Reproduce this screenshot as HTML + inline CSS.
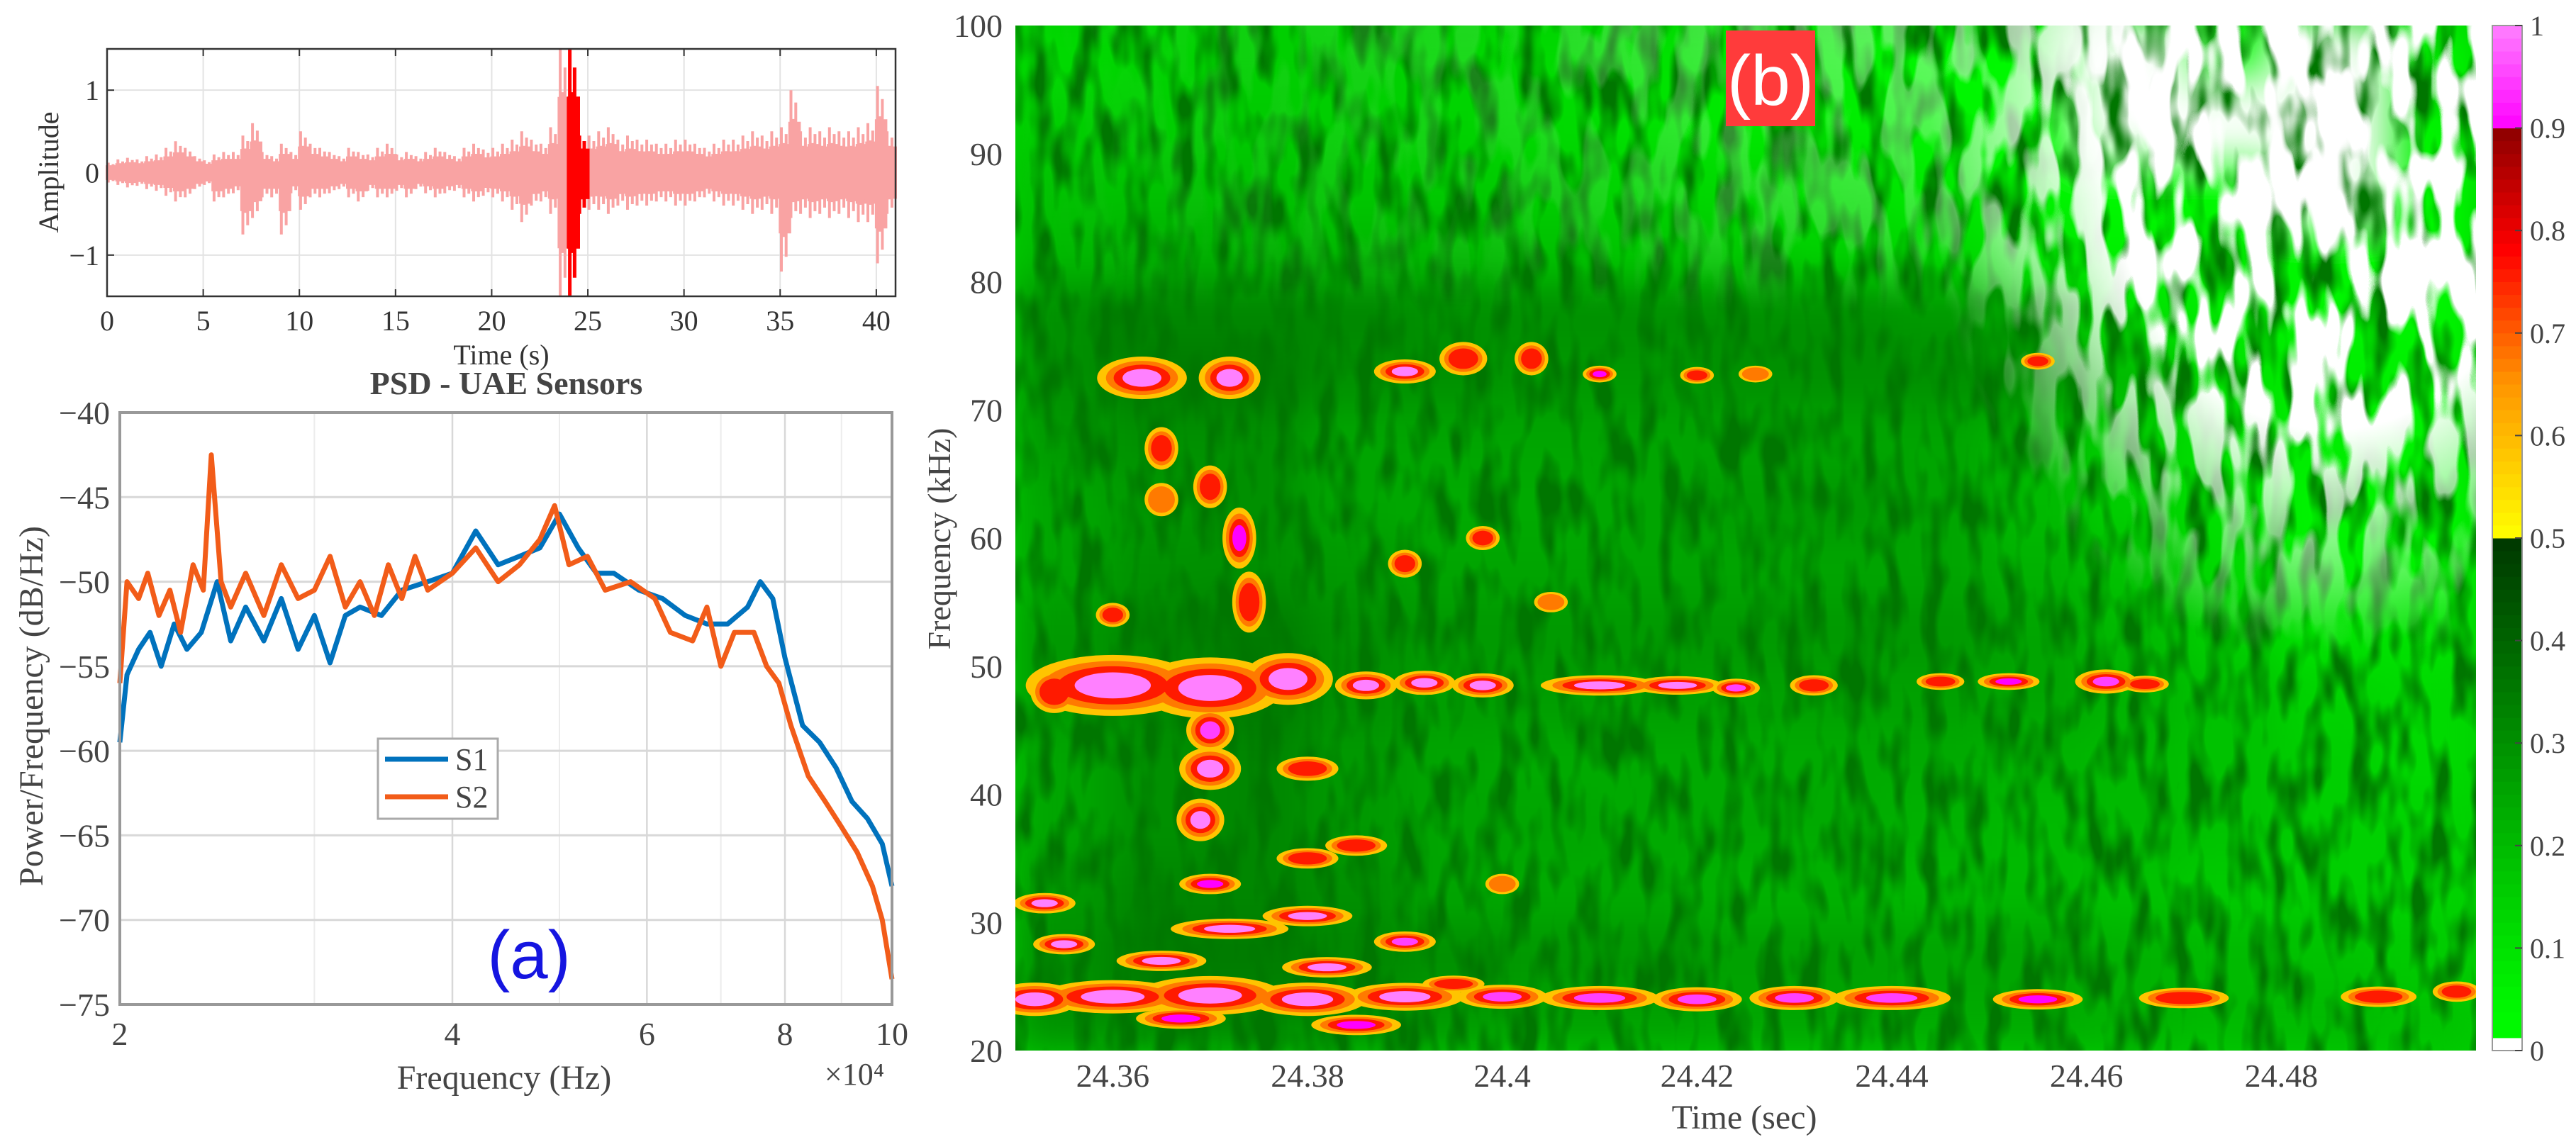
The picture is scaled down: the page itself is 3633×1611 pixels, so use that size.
<!DOCTYPE html>
<html><head><meta charset="utf-8">
<style>
html,body{margin:0;padding:0;background:#fff;}
svg{display:block;}
text{font-family:"Liberation Serif",serif;}
</style></head>
<body>
<svg id="fig" xmlns="http://www.w3.org/2000/svg" width="3633" height="1611" viewBox="0 0 3633 1611">
<defs>
<filter id="blurCells" x="-5%" y="-5%" width="110%" height="110%"><feGaussianBlur stdDeviation="28"/></filter>
<filter id="speckle" x="0" y="0" width="100%" height="100%">
<feTurbulence type="fractalNoise" baseFrequency="0.035 0.012" numOctaves="2" seed="3"/>
<feColorMatrix type="matrix" values="0 0 0 0 0  0 0 0 0 0.18  0 0 0 0 0  3.2 0 0 0 -1.35"/>
</filter>
<filter id="whiteSpeckle" x="0" y="0" width="100%" height="100%">
<feTurbulence type="fractalNoise" baseFrequency="0.03 0.009" numOctaves="2" seed="7"/>
<feColorMatrix type="matrix" values="0 0 0 0 1  0 0 0 0 1  0 0 0 0 1  9 0 0 0 -4.0"/>
</filter>
<radialGradient id="whiteGrad" cx="0.9" cy="0.12" r="0.5" gradientTransform="translate(0.9,0.12) scale(0.55,1) translate(-0.9,-0.12)">
<stop offset="0" stop-color="#fff"/><stop offset="0.55" stop-color="#fff"/><stop offset="1" stop-color="#000"/>
</radialGradient>
<linearGradient id="topGrad" x1="0" y1="0" x2="1" y2="0">
<stop offset="0" stop-color="#000"/><stop offset="0.35" stop-color="#222"/><stop offset="0.7" stop-color="#777"/><stop offset="1" stop-color="#777"/>
</linearGradient>
<linearGradient id="topFade" x1="0" y1="0" x2="0" y2="1">
<stop offset="0" stop-color="#fff"/><stop offset="0.2" stop-color="#888"/><stop offset="0.28" stop-color="#000"/>
</linearGradient>
<mask id="whiteMask"><rect x="1432" y="36" width="2060" height="1446" fill="url(#whiteGrad)"/></mask>
<mask id="topMask"><rect x="1432" y="36" width="2060" height="1446" fill="url(#topFade)"/></mask>
<mask id="topMaskX"><rect x="1432" y="36" width="2060" height="1446" fill="url(#topGrad)"/></mask>
<clipPath id="specClip"><rect x="1432" y="36" width="2060" height="1446"/></clipPath>
</defs>
</svg>
<script>
// ---------- data ----------
const waveBin = 0.5;
const envPos = [.12,.16,.18,.16,.2,.22,.3,.38, .3,.2,.15,.22,.25,.25,.45,.6, .25,.2,.35,.25,.5,.35,.3,.25, .2,.3,.25,.22,.3,.35,.22,.25, .2,.25,.3,.25,.2,.3,.35,.28, .3,.35,.4,.5,.4,.35,.55,1.5, 1.5,.45,.45,.5,.55,.4,.45,.4, .4,.35,.35,.4,.4,.35,.3,.35, .4,.4,.45,.5,.45,.5,.55,1.0, .5,.55,.5,.55,.5,.5,.55,.6, 1.05,.5];
const envNeg = [.12,.15,.18,.16,.2,.22,.28,.35, .3,.2,.15,.35,.3,.25,.75,.55, .3,.3,.75,.25,.45,.3,.3,.25, .2,.3,.35,.22,.3,.3,.22,.3, .2,.25,.3,.25,.22,.3,.35,.28, .3,.35,.45,.6,.4,.35,.5,1.5, 1.5,.5,.45,.45,.5,.4,.45,.4, .4,.35,.35,.4,.4,.35,.3,.35, .4,.4,.45,.5,.45,.5,1.2,.55, .5,.55,.5,.55,.5,.55,.6,.6, 1.1,.5];
const waveXTicks = [0,5,10,15,20,25,30,35,40];
const waveYTicks = [-1,0,1];

const psdF1 = [2.0,2.03,2.08,2.13,2.18,2.24,2.3,2.37,2.45,2.52,2.6,2.7,2.8,2.9,3.0,3.1,3.2,3.3,3.45,3.6,3.8,4.0,4.2,4.4,4.6,4.8,5.0,5.2,5.4,5.6,5.9,6.2,6.5,6.8,7.1,7.4,7.6,7.8,8.0,8.3,8.6,8.9,9.2,9.5,9.8,10];
const psdS1 = [-59.5,-55.5,-54,-53,-55,-52.5,-54,-53,-50,-53.5,-51.5,-53.5,-51,-54,-52,-54.8,-52,-51.5,-52,-50.5,-50,-49.5,-47,-49,-48.5,-48,-46,-48,-49.5,-49.5,-50.5,-51,-52,-52.5,-52.5,-51.5,-50,-51,-54.5,-58.5,-59.5,-61,-63,-64,-65.5,-68];
const psdF2 = [2.0,2.03,2.08,2.12,2.17,2.22,2.27,2.33,2.38,2.42,2.47,2.52,2.6,2.7,2.8,2.9,3.0,3.1,3.2,3.3,3.4,3.5,3.6,3.7,3.8,4.0,4.2,4.4,4.6,4.8,4.95,5.1,5.3,5.5,5.8,6.1,6.3,6.6,6.8,7.0,7.2,7.5,7.7,7.9,8.1,8.4,8.7,9.0,9.3,9.6,9.8,10];
const psdS2 = [-56,-50,-51,-49.5,-52,-50.5,-53,-49,-50.5,-42.5,-50,-51.5,-49.5,-52,-49,-51,-50.5,-48.5,-51.5,-50,-52,-49,-51,-48.5,-50.5,-49.5,-48,-50,-49,-47.5,-45.5,-49,-48.5,-50.5,-50,-51,-53,-53.5,-51.5,-55,-53,-53,-55,-56,-58.5,-61.5,-63,-64.5,-66,-68,-70,-73.5];
const psdXTicks = [2,4,6,8,10];
const psdYTicks = [-40,-45,-50,-55,-60,-65,-70,-75];

const specXTicks = [24.36,24.38,24.4,24.42,24.44,24.46,24.48];
const specXLabels = ["24.36","24.38","24.4","24.42","24.44","24.46","24.48"];
const specYTicks = [20,30,40,50,60,70,80,90,100];
const cbTicks = [0,0.1,0.2,0.3,0.4,0.5,0.6,0.7,0.8,0.9,1];
const bgGrid = [
[.12,.14,.15,.15,.13,.12,.1,.08,.06,.04,.03,.02,.03,.02,.05],
[.15,.15,.16,.15,.14,.12,.1,.08,.07,.05,.03,.02,.02,.01,.06],
[.18,.18,.18,.17,.16,.15,.13,.12,.1,.08,.05,.03,.03,.02,.04],
[.2,.22,.22,.2,.2,.18,.17,.16,.14,.12,.08,.06,.05,.04,.04],
[.3,.32,.32,.32,.3,.3,.3,.3,.3,.28,.22,.1,.07,.05,.05],
[.3,.35,.35,.3,.3,.28,.28,.3,.3,.3,.3,.2,.1,.07,.06],
[.28,.3,.3,.25,.25,.25,.25,.25,.25,.25,.2,.15,.1,.07,.06],
[.25,.28,.3,.25,.24,.24,.25,.27,.28,.25,.2,.15,.1,.05,.05],
[.25,.3,.3,.28,.25,.25,.25,.25,.25,.25,.22,.18,.12,.06,.06],
[.28,.32,.35,.3,.28,.28,.28,.28,.28,.28,.25,.2,.15,.1,.1],
[.28,.32,.35,.3,.27,.27,.27,.26,.26,.26,.25,.22,.18,.14,.12],
[.25,.3,.32,.28,.25,.24,.24,.24,.24,.24,.22,.2,.18,.15,.12],
[.25,.3,.32,.28,.25,.25,.24,.24,.24,.22,.2,.2,.18,.15,.14],
[.28,.32,.32,.3,.25,.24,.24,.22,.22,.2,.2,.18,.16,.15,.14],
[.3,.35,.35,.32,.3,.28,.28,.26,.26,.25,.25,.22,.2,.18,.16],
[.3,.32,.32,.3,.28,.26,.26,.25,.25,.24,.24,.22,.2,.2,.18]];
const hotT = [24.352,24.36,24.37,24.38,24.39,24.40,24.41,24.42,24.43,24.44,24.455,24.47,24.49,24.498,
 24.353,24.355,24.365,24.372,24.38,24.382,24.39,24.367,24.385,24.395,24.37,24.38,
 24.369,24.37,24.37,24.374,24.373,24.37,24.365,
 24.36,24.37,24.378,24.386,24.392,24.398,24.41,24.418,24.424,24.432,24.445,24.452,24.462,24.466,24.354,
 24.363,24.372,24.39,24.396,24.403,24.41,24.42,24.426,24.455,
 24.39,24.398,24.405,24.38,24.385,24.4,24.36,24.365];
const hotF = [24,24.2,24.3,24,24.2,24.2,24.1,24,24.1,24.1,24,24.1,24.2,24.6,
 31.5,28.3,27,29.5,30.5,26.5,28.5,22.5,22,25.2,33,35,
 38,42,45,55,60,64,67,
 48.5,48.3,49,48.5,48.7,48.5,48.5,48.5,48.3,48.5,48.8,48.8,48.8,48.6,48,
 72.5,72.5,73,74,74,72.8,72.7,72.8,73.8,
 58,60,55,42,36,33,54,63];
const hotV = [1,1,1,1,1,.95,.95,.95,.95,.95,.9,.85,.8,.8,
 1,1,1,1,1,1,.95,.9,.9,.85,.9,.85,
 1,1,.95,.85,.9,.85,.8,
 1,1,1,1,1,1,1,1,.95,.85,.85,.9,.95,.8,.8,
 1,1,1,.8,.8,.9,.8,.75,.8,
 .8,.8,.75,.85,.8,.7,.8,.75];
const hotW = [.006,.01,.01,.008,.008,.006,.008,.006,.006,.008,.006,.006,.005,.003,
 .004,.004,.006,.008,.006,.006,.004,.006,.006,.004,.004,.004,
 .003,.004,.003,.002,.002,.002,.002,
 .012,.01,.006,.004,.004,.004,.008,.006,.003,.003,.003,.004,.004,.003,.003,
 .006,.004,.004,.003,.002,.002,.002,.002,.002,
 .002,.002,.002,.004,.004,.002,.002,.002];
const hotH = [1.5,1.5,1.8,1.5,1.2,1,1,1,1,1,.8,.8,.8,.8,
 .8,.8,.8,.8,.8,.8,.8,.8,.8,.6,.8,.8,
 2,2,2,3,3,2,2,
 3,3,2.5,1.2,1,1,.8,.7,.7,.8,.6,.6,1,.6,2,
 2,2,1,1.5,1.5,.6,.6,.6,.6,
 1.2,1,.8,1,.8,.8,1,1.5];

// ---------- helpers ----------
const NS = "http://www.w3.org/2000/svg";
const svg = document.getElementById('fig');
function mk(tag, attrs, parent){ const e=document.createElementNS(NS,tag); for(const k in attrs) e.setAttribute(k, attrs[k]); (parent||svg).appendChild(e); return e; }
function txt(str, attrs, parent){ const e=mk('text',attrs,parent); e.textContent=str; return e; }

// ---------- panel 1: waveform ----------
const wL=151,wR=1263,wTop=69,wBot=418;
const wx = t => wL + t/41*(wR-wL);
const wy = a => wTop + (1.5-a)/3*(wBot-wTop);
const gW = mk('g',{});


waveXTicks.forEach(t=>{
  const l=mk('line',{x1:wx(t),x2:wx(t),y1:wTop,y2:wBot,stroke:'#e3e3e3','stroke-width':2},gW);
  
  
  const lb=txt(String(t),{x:wx(t),y:466,'text-anchor':'middle','font-size':40,fill:'#333'},gW);
  
  
  mk('line',{x1:wx(t),x2:wx(t),y1:wBot,y2:wBot-10,stroke:'#333','stroke-width':2},gW);
  mk('line',{x1:wx(t),x2:wx(t),y1:wTop,y2:wTop+10,stroke:'#333','stroke-width':2},gW);
});
waveYTicks.forEach(a=>{
  const l=mk('line',{x1:wL,x2:wR,y1:wy(a),y2:wy(a),stroke:'#e3e3e3','stroke-width':2},gW);
  
  
  const lb=txt(a<0?'\u2212'+Math.abs(a):String(a),{x:140,y:wy(a)+14,'text-anchor':'end','font-size':40,fill:'#333'},gW);
  
  
  mk('line',{x1:wL,x2:wL+10,y1:wy(a),y2:wy(a),stroke:'#333','stroke-width':2},gW);
});
function envPath(filterFn){
  let d='';
  envPos.forEach((p,i)=>{
    const t0=i*waveBin, t1=t0+waveBin;
    if(!filterFn(t0)) return;
    const n=envNeg[i];
    for(let k=0;k<4;k++){
      const f=[1,0.65,0.85,0.55][k];
      const tt=t0+(k+0.5)*waveBin/4;
      d+='M'+wx(tt).toFixed(1)+' '+wy(p*f).toFixed(1)+'V'+wy(-n*f).toFixed(1);
    }
    d+='M'+wx(t0).toFixed(1)+' '+wy(p*0.6).toFixed(1)+'H'+wx(t1).toFixed(1)+'V'+wy(-n*0.6).toFixed(1)+'H'+wx(t0).toFixed(1)+'Z';
  });
  return d;
}
const wavePink = mk('path',{d:envPath(t=>!(t>=23.8&&t<25)),fill:'#f9a3a3',stroke:'#f9a3a3','stroke-width':4},gW);


const waveRed = mk('path',{d:envPath(t=>t>=23.8&&t<25),fill:'#ff0000',stroke:'#ff0000','stroke-width':5},gW);


const wFrame = mk('rect',{x:wL,y:wTop,width:wR-wL,height:wBot-wTop,fill:'none',stroke:'#333','stroke-width':2.5},gW);


const wXt = txt('Time (s)',{x:707,y:514,'text-anchor':'middle','font-size':40,fill:'#333'},gW);


const wYt = txt('Amplitude',{x:0,y:0,'text-anchor':'middle','font-size':40,fill:'#333',transform:'translate(82,243) rotate(-90)'},gW);



// ---------- panel 2: PSD ----------
const pL=169,pR=1258,pTop=582,pBot=1417;
const px = f => pL + Math.log(f/2)/Math.log(5)*(pR-pL);
const py = db => pTop + (-40-db)/35*(pBot-pTop);
const gP = mk('g',{});


[3,5,7,9].forEach(f=>{
  const l=mk('line',{x1:px(f),x2:px(f),y1:pTop,y2:pBot,stroke:'#ececec','stroke-width':2},gP);
  
  
});
psdXTicks.forEach(f=>{
  const l=mk('line',{x1:px(f),x2:px(f),y1:pTop,y2:pBot,stroke:'#d8d8d8','stroke-width':2.5},gP);
  
  
  const lb=txt(String(f),{x:px(f),y:1474,'text-anchor':'middle','font-size':46,fill:'#444'},gP);
  
  
});
psdYTicks.forEach(v=>{
  const l=mk('line',{x1:pL,x2:pR,y1:py(v),y2:py(v),stroke:'#d8d8d8','stroke-width':3},gP);
  
  
  const lb=txt('\u2212'+Math.abs(v),{x:155,y:py(v)+16,'text-anchor':'end','font-size':46,fill:'#444'},gP);
  
  
});
const lineS1 = mk('polyline',{points:psdF1.map((f,i)=>px(f).toFixed(1)+','+py(psdS1[i]).toFixed(1)).join(' '),fill:'none',stroke:'#0072BD','stroke-width':7,'stroke-linejoin':'round'},gP);


const lineS2 = mk('polyline',{points:psdF2.map((f,i)=>px(f).toFixed(1)+','+py(psdS2[i]).toFixed(1)).join(' '),fill:'none',stroke:'#F25C19','stroke-width':7,'stroke-linejoin':'round'},gP);


const pFrame = mk('rect',{x:pL,y:pTop,width:pR-pL,height:pBot-pTop,fill:'none',stroke:'#999','stroke-width':4},gP);


const pTitle = txt('PSD - UAE Sensors',{x:714,y:556,'text-anchor':'middle','font-size':46,'font-weight':'bold',fill:'#444'},gP);


const pXt = txt('Frequency (Hz)',{x:711,y:1536,'text-anchor':'middle','font-size':48,fill:'#444'},gP);


const pExp = txt('\u00d710\u2074',{x:1205,y:1530,'text-anchor':'middle','font-size':44,fill:'#444'},gP);


const pYt = txt('Power/Frequency (dB/Hz)',{x:0,y:0,'text-anchor':'middle','font-size':48,fill:'#444',transform:'translate(60,996) rotate(-90)'},gP);


const leg = mk('g',{},gP);


mk('rect',{x:533,y:1042,width:169,height:113,fill:'#fff',stroke:'#aaa','stroke-width':3},leg);
mk('line',{x1:543,x2:632,y1:1071,y2:1071,stroke:'#0072BD','stroke-width':7},leg);
mk('line',{x1:543,x2:632,y1:1124,y2:1124,stroke:'#F25C19','stroke-width':7},leg);
const l1=txt('S1',{x:642,y:1086,'font-size':44,fill:'#444'},leg);


const l2=txt('S2',{x:642,y:1139,'font-size':44,fill:'#444'},leg);


const la = txt('(a)',{x:746,y:1380,'text-anchor':'middle','font-size':96,style:'font-family:"Liberation Sans",sans-serif;fill:#1515e0'},gP);



// ---------- panel 3: spectrogram ----------
const sL=1432,sR=3492,sTop=36,sBot=1482;
const sx = t => sL + (t-24.35)/(24.50-24.35)*(sR-sL);
const sy = f => sTop + (100-f)/80*(sBot-sTop);
function lerp(a,b,u){return a.map((v,i)=>Math.round(v+(b[i]-v)*u));}
function cmap(v){
  if(v<0.03) return 'rgb(255,255,255)';
  if(v<0.5){ const u=(v-0.03)/0.47; return 'rgb('+lerp([0,250,0],[0,55,0],Math.pow(u,1.1)).join(',')+')'; }
  if(v<0.65){ const u=(v-0.5)/0.15; return 'rgb('+lerp([255,255,0],[255,150,0],u).join(',')+')'; }
  if(v<0.78){ const u=(v-0.65)/0.13; return 'rgb('+lerp([255,150,0],[255,0,0],u).join(',')+')'; }
  if(v<0.9){ const u=(v-0.78)/0.12; return 'rgb('+lerp([255,0,0],[140,0,0],u).join(',')+')'; }
  const u=(v-0.9)/0.1; return 'rgb('+lerp([255,0,255],[255,128,255],u).join(',')+')';
}
const gS = mk('g',{'clip-path':'url(#specClip)'});


mk('rect',{x:sL,y:sTop,width:sR-sL,height:sBot-sTop,fill:cmap(0.15)},gS);
const gCells = mk('g',{filter:'url(#blurCells)'},gS);


bgGrid.forEach((row,r)=>{
  const fTop = 100 - r*5;
  row.forEach((v,c)=>{
    const t0 = 24.35 + c*0.01;
    const cell = mk('rect',{x:sx(t0)-2,y:sy(fTop)-2,width:sx(t0+0.01)-sx(t0)+4,height:sy(fTop-5)-sy(fTop)+4,fill:cmap(v)},gCells);
    
    
  });
});
const spk = mk('rect',{x:sL,y:sTop,width:sR-sL,height:sBot-sTop,filter:'url(#speckle)'},gS);


const wsp = mk('g',{mask:'url(#whiteMask)'},gS);


mk('rect',{x:sL,y:sTop,width:sR-sL,height:sBot-sTop,filter:'url(#whiteSpeckle)'},wsp);
const wsp2o = mk('g',{mask:'url(#topMaskX)'},gS);


const wsp2 = mk('g',{mask:'url(#topMask)'},wsp2o);
mk('rect',{x:sL,y:sTop,width:sR-sL,height:sBot-sTop,filter:'url(#whiteSpeckle)'},wsp2);
const gHot = mk('g',{},gS);


[[0.72,'#ffc400',0.55,4],[0.58,'#ff7a00',0.7,3],[0.46,'#ff1a00',0.78,2],[0.32,null,0,1]].forEach(layer=>{
  hotT.forEach((t,i)=>{
    const v=hotV[i];
    let col = layer[1];
    if(col===null){ if(v<0.9) return; col=cmap(v); }
    else if(v<layer[2]) return;
    const rx=(sx(t+hotW[i]/2)-sx(t-hotW[i]/2))*layer[0]+layer[3];
    const ry=(sy(hotF[i]-hotH[i]/2)-sy(hotF[i]+hotH[i]/2))*layer[0]+layer[3];
    const e=mk('ellipse',{cx:sx(t),cy:sy(hotF[i]),rx:rx,ry:ry,fill:col},gHot);
    
    
  });
});
const gSA = mk('g',{});


specXTicks.forEach((t,i)=>{
  const lb=txt(specXLabels[i],{x:sx(t),y:1533,'text-anchor':'middle','font-size':46,fill:'#444'},gSA);
  
  
});
specYTicks.forEach(f=>{
  const lb=txt(String(f),{x:1414,y:sy(f)+16,'text-anchor':'end','font-size':46,fill:'#444'},gSA);
  
  
});
const sXt = txt('Time (sec)',{x:2460,y:1592,'text-anchor':'middle','font-size':48,fill:'#444'},gSA);


const sYt = txt('Frequency (kHz)',{x:0,y:0,'text-anchor':'middle','font-size':46,fill:'#444',transform:'translate(1340,760) rotate(-90)'},gSA);


const bBox = mk('rect',{x:2434,y:43,width:126,height:135,fill:'#ff3b3b'},gSA);


const bTxt = txt('(b)',{x:2497,y:148,'text-anchor':'middle','font-size':100,style:'font-family:"Liberation Sans",sans-serif;fill:#fff'},gSA);



// ---------- colorbar ----------
const cL=3515,cR=3557;
const cy = v => sBot - v*(sBot-sTop);
const gC = mk('g',{});


for(let k=0;k<80;k++){
  const v0=k/80, v1=(k+1)/80;
  const seg=mk('rect',{x:cL,y:cy(v1),width:cR-cL,height:cy(v0)-cy(v1)+0.5,fill:cmap(v0<0.0125?0:Math.max(0.035,(v0+v1)/2))},gC);
  
  
}
mk('rect',{x:cL,y:sTop,width:cR-cL,height:sBot-sTop,fill:'none',stroke:'#999','stroke-width':2},gC);
cbTicks.forEach(v=>{
  mk('line',{x1:cR-10,x2:cR,y1:cy(v),y2:cy(v),stroke:'#444','stroke-width':2},gC);
  const lb=txt(v===0?'0':v===1?'1':v.toFixed(1),{x:3568,y:cy(v)+14,'font-size':40,fill:'#444'},gC);
  
  
});
</script>
</body></html>
